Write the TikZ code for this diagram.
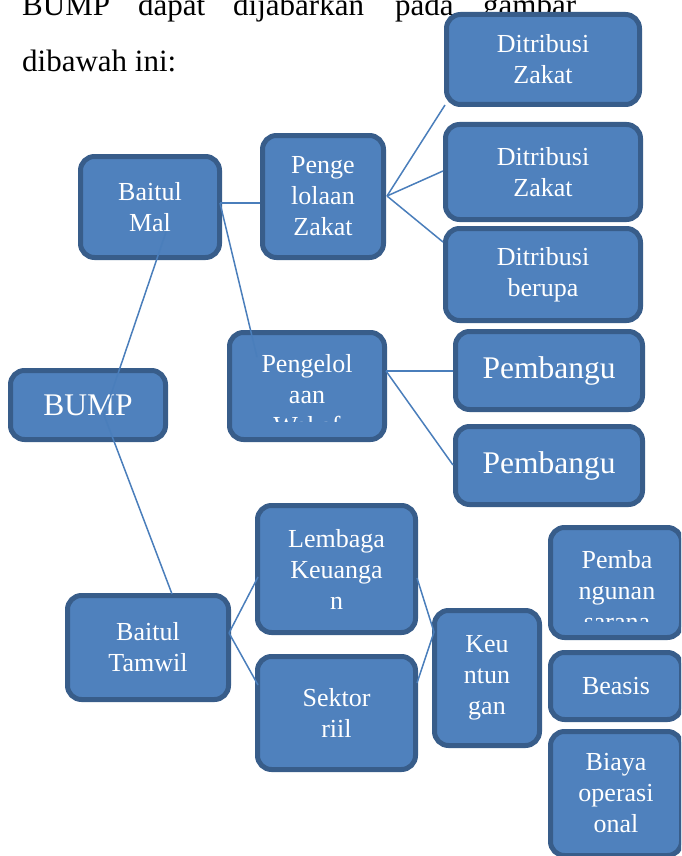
\documentclass[tikz,border=0pt]{standalone}
\usepackage{fontspec}
\setmainfont{Liberation Serif}
\definecolor{boxfill}{HTML}{4F81BD}
\definecolor{boxline}{HTML}{385D8A}
\definecolor{linkcol}{HTML}{4A7EBB}
\begin{document}
\begin{tikzpicture}[x=1pt,y=-1pt,
  card/.style={draw=boxline, fill=boxfill, line width=5pt, rounded corners=14pt,
    text=white, align=center, inner sep=0pt, font=\fontsize{26}{31}\selectfont},
  bigcard/.style={card, font=\fontsize{31.5}{36}\selectfont},
  cardline/.style={text=white, anchor=base, inner sep=0pt, font=\fontsize{26}{31}\selectfont},
  link/.style={draw=linkcol, line width=1.5pt},
  para/.style={anchor=base west, inner sep=0pt, font=\fontsize{31}{36}\selectfont}]
\clip (0,0) rectangle (681,856);
\useasboundingbox (0,0) rectangle (681,856);

% running text above the chart
\node[para] (w1) at (22,16) {BUMP};
\node[para] (w2) at (138,16) {dapat};
\node[para] (w3) at (233,16) {dijabarkan};
\node[para] (w4) at (395,16) {pada};
\node[para] (w5) at (483,16) {gambar};
\node[para] (w6) at (22,72) {dibawah ini:};

% root and first level
\node[bigcard, minimum width=155pt, minimum height=69pt] (bump) at (88,405) {BUMP};
\node[card, minimum width=139pt, minimum height=101pt] (bm) at (150,207) {Baitul\\Mal};
\node[card, minimum width=161pt, minimum height=104pt] (bt) at (148,647.5) {Baitul\\Tamwil};

% Baitul Mal branch
\node[card, minimum width=121pt, minimum height=122pt] (pz) at (323,196.5) {Penge\\lolaan\\Zakat};
\node[card, minimum width=155pt, minimum height=107pt] (pw) at (307,386) {};
\begin{scope}
  \clip (230,333) rectangle (384,421);
  \node[cardline] (pw1) at (307,372) {Pengelol};
  \node[cardline] (pw2) at (307,403) {aan};
  \node[cardline] (pw3) at (307,434) {Wakaf};
\end{scope}

\node[card, minimum width=193pt, minimum height=90pt] (dz1) at (543,59.5) {Ditribusi\\Zakat};
\node[card, minimum width=195pt, minimum height=95pt] (dz2) at (543,172) {Ditribusi\\Zakat};
\node[card, minimum width=195pt, minimum height=92pt] (db) at (543,274.5) {Ditribusi\\berupa};
\node[bigcard, minimum width=187pt, minimum height=78pt] (pb1) at (549,370.5) {Pembangu};
\node[bigcard, minimum width=187pt, minimum height=78pt] (pb2) at (549,465.5) {Pembangu};

% Baitul Tamwil branch
\node[card, minimum width=158pt, minimum height=127pt] (lk) at (336.5,569) {Lembaga\\Keuanga\\n};
\node[card, minimum width=158pt, minimum height=113pt] (sr) at (336.5,713) {Sektor\\riil};
\node[card, minimum width=105pt, minimum height=135pt] (ku) at (487,678) {Keu\\ntun\\gan};

\node[card, minimum width=131pt, minimum height=110pt] (ps) at (616,582.5) {};
\begin{scope}
  \clip (551,528) rectangle (681,621);
  \node[cardline] (ps1) at (617,568) {Pemba};
  \node[cardline] (ps2) at (617,599) {ngunan};
  \node[cardline] (ps3) at (617,630) {sarana};
\end{scope}
\node[card, minimum width=131pt, minimum height=67pt] (be) at (616,686) {Beasis};
\node[card, minimum width=131pt, minimum height=124pt] (bo) at (616,793.5) {Biaya\\operasi\\onal};

% connector end points
\coordinate (bm-in) at (166,232);
\coordinate (bump-j) at (104,415);
\coordinate (bt-top) at (172,594);
\coordinate (bm-r) at (220,203);
\coordinate (pz-l) at (260,203);
\coordinate (pw-in) at (257,357);
\coordinate (pz-r) at (387,196);
\coordinate (dz1-l) at (445,105);
\coordinate (dz2-l) at (443,171);
\coordinate (db-l) at (443,242);
\coordinate (pw-r) at (386,371);
\coordinate (pb1-l) at (453,371);
\coordinate (pb2-l) at (453,465);
\coordinate (bt-r) at (229,633);
\coordinate (lk-l) at (258,577);
\coordinate (sr-l) at (258,685);
\coordinate (lk-r) at (417,578);
\coordinate (sr-r) at (417,683);
\coordinate (ku-l) at (434,632);

% connectors
\draw[link] (bm-in) -- (bump-j) -- (bt-top);
\draw[link] (bm-r) -- (pz-l);
\draw[link] (bm-r) -- (pw-in);
\draw[link] (pz-r) -- (dz1-l);
\draw[link] (pz-r) -- (dz2-l);
\draw[link] (pz-r) -- (db-l);
\draw[link] (pw-r) -- (pb1-l);
\draw[link] (pw-r) -- (pb2-l);
\draw[link] (bt-r) -- (lk-l);
\draw[link] (bt-r) -- (sr-l);
\draw[link] (lk-r) -- (ku-l);
\draw[link] (sr-r) -- (ku-l);
\end{tikzpicture}
\end{document}
